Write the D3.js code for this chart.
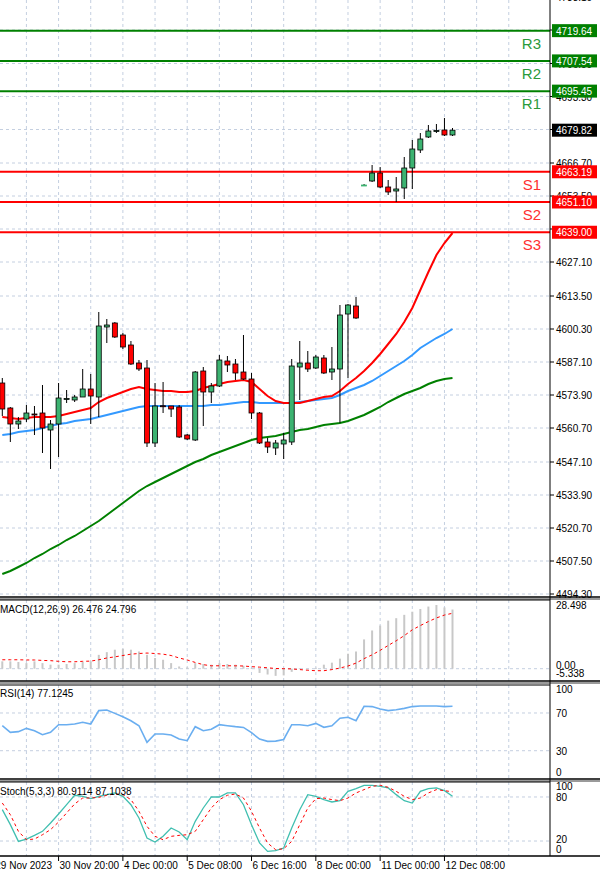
<!DOCTYPE html>
<html><head><meta charset="utf-8">
<script src="https://cdn.jsdelivr.net/npm/d3@7"></script>
<style>body{margin:0;background:#fff}svg{display:block}text{font-family:"Liberation Sans",Arial,sans-serif}</style>
</head><body><svg id="c" width="600" height="875"></svg>
<script>
const open=[4578.7,4568.7,4562.3,4564.3,4566.3,4566.7,4559.9,4562.3,4572.3,4571.9,4573.1,4576.3,4573.1,4601.1,4602.7,4597.9,4593.9,4586.7,4584.7,4554.7,4569.6,4569.5,4569.1,4557.9,4555.9,4583.5,4575.1,4577.5,4587.5,4586.3,4583.1,4580.3,4566.7,4555.1,4552.7,4554.3,4555.1,4585.1,4586.7,4584.7,4588.7,4583.1,4584.3,4606.3,4609.5,4657.7,4659.5,4662.7,4657.1,4655.5,4656.7,4664.7,4671.9,4677.1,4679.5,4679.9,4677.9];
const high=[4580.7,4569.1,4565.1,4569.9,4569.5,4577.9,4563.9,4578.7,4575.9,4573.9,4584.3,4582.3,4607.1,4604.3,4603.1,4598.7,4595.5,4587.9,4587.9,4578.7,4579.1,4569.5,4569.9,4558.3,4583.5,4585.1,4578.7,4589.9,4589.5,4588.3,4597.9,4582.7,4567.1,4556.7,4555.9,4558.7,4588.3,4595.5,4591.5,4589.9,4589.9,4593.1,4609.9,4610.3,4613.1,4658.3,4665.9,4665.1,4659.9,4661.1,4669.1,4675.9,4678.7,4681.9,4682.3,4684.7,4680.7];
const low=[4565.5,4555.1,4560.3,4563.1,4557.9,4550.7,4544.3,4549.1,4570.7,4571.1,4573.1,4562.3,4565.1,4594.7,4596.7,4592.3,4585.9,4583.5,4553.1,4553.1,4566.7,4565.1,4556.7,4555.9,4555.5,4561.5,4570.7,4577.1,4583.1,4579.9,4579.9,4564.3,4554.3,4550.7,4549.9,4548.3,4553.9,4571.9,4583.1,4584.3,4582.3,4579.9,4562.7,4580.7,4604.3,4657.5,4659.1,4656.7,4653.9,4651.1,4652.3,4656.3,4670.7,4676.7,4678.7,4677.5,4677.5];
const close=[4568.3,4562.3,4563.5,4566.7,4566.1,4560.7,4562.3,4572.7,4572.5,4573.1,4576.3,4573.5,4601.5,4601.9,4597.1,4593.1,4586.3,4584.3,4554.7,4569.5,4569.3,4568.3,4557.1,4556.3,4583.1,4575.1,4577.5,4587.9,4585.9,4582.7,4580.3,4566.7,4554.7,4553.1,4554.7,4555.9,4585.5,4586.7,4584.3,4589.1,4582.7,4584.3,4605.9,4609.9,4604.7,4657.9,4662.7,4657.1,4655.1,4656.3,4664.7,4672.3,4676.3,4679.5,4679.7,4677.9,4679.82];
const maFast=[4565.1,4564.7,4564.3,4564.7,4565.1,4565.1,4565.1,4565.5,4566.3,4567.1,4567.9,4568.7,4571.1,4572.7,4573.9,4575.1,4576.3,4577.1,4576.3,4575.9,4575.5,4575.5,4575.1,4575.1,4575.5,4576.7,4577.5,4578.3,4579.1,4579.5,4579.9,4579.1,4576.3,4573.5,4571.5,4570.7,4570.7,4570.7,4571.5,4572.3,4573.1,4573.5,4575.5,4578.3,4580.7,4583.5,4586.7,4590.3,4594.3,4598.3,4603.1,4608.7,4615.9,4623.1,4629.9,4634.7,4638.7];
const maMid=[4557.9,4558.3,4559.1,4559.5,4559.9,4560.7,4561.5,4562.3,4562.7,4563.5,4563.9,4564.3,4565.1,4565.9,4566.7,4567.5,4568.3,4569.1,4569.5,4569.5,4569.5,4569.5,4569.5,4569.5,4569.5,4569.5,4569.9,4569.9,4570.3,4570.7,4571.1,4571.1,4570.7,4570.7,4570.7,4570.7,4570.7,4571.1,4571.5,4571.9,4572.3,4572.7,4573.9,4575.5,4576.7,4577.9,4579.5,4581.5,4583.5,4585.5,4587.5,4589.9,4592.7,4594.7,4596.7,4598.3,4600.3];
const maSlow=[4502.3,4503.5,4505.1,4506.7,4508.7,4510.3,4512.3,4513.9,4515.9,4517.5,4519.5,4521.5,4523.5,4525.9,4528.3,4530.7,4533.1,4535.5,4537.5,4539.1,4540.7,4542.3,4543.9,4545.5,4547.1,4548.3,4549.9,4551.1,4552.3,4553.5,4554.7,4555.9,4556.7,4557.1,4557.5,4558.3,4559.1,4559.9,4560.3,4561.1,4561.9,4562.3,4562.7,4563.5,4564.7,4565.9,4567.5,4569.1,4571.1,4572.7,4574.3,4575.5,4576.7,4578.3,4579.5,4580.3,4580.7];
const macd=[3.3,3.3,3.0,2.5,3.3,2.5,1.8,1.8,2.1,2.5,3.0,3.3,6.2,7.4,8.5,8.9,8.5,7.7,6.2,4.8,4.0,2.5,1.0,0.6,2.5,2.1,1.8,2.5,2.1,1.8,1.3,0.2,-1.9,-2.6,-3.2,-3.0,-1.4,0.3,-0.3,0.4,1.8,2.7,4.5,6.7,7.7,13.1,17.1,19.3,21.5,22.6,24.1,25.5,26.7,27.8,28.5,27.4,26.476];
const macdSignal=[4.0,4.0,4.0,3.9,3.9,3.7,3.6,3.3,3.1,3.1,3.3,3.4,4.0,4.8,5.3,5.9,6.5,6.8,7.0,6.8,6.5,5.9,4.8,3.9,2.8,1.8,1.3,1.3,1.3,1.3,1.2,0.9,0.7,0.4,0.1,0,-0.1,-0.4,-0.7,-0.9,-0.9,-0.4,0.3,1.2,2.5,4.5,6.2,8.2,10.4,12.5,14.8,17.4,19.3,21.1,22.7,24.0,24.796];
const rsi=[56.5,49.5,50.2,53.7,51.2,47,49.5,57.6,57.6,58.3,60.1,58.3,72.5,73.2,69.6,66.1,61.8,56.5,38.9,47.7,47.7,46.6,42.4,40.6,55.5,51.2,52.7,57.6,56.5,55.5,54.7,49.1,42.4,39.9,40.2,41.9,57.6,57.6,56.5,59,54.8,56.5,64.4,65.5,61.9,77.1,76.8,74.2,72.5,73.5,74.9,76.8,77.4,77.4,77.4,76.8,77.1245];
const stochK=[62.7,42.3,19.5,22.7,27.7,33.2,44.5,56.8,69.5,82.3,80.9,77.7,80.9,83.2,85.5,80.9,69.5,51.4,24.1,18.6,26.4,37.7,32.3,21.8,46.8,65,80,80,85.5,85.5,69.5,42.3,17.3,5.9,6.8,10.5,37.7,62.7,83.2,80.9,76.4,73.2,75,87.7,91.4,95.9,95.9,94.5,92.3,83.2,75,71.8,87.7,91.4,92.3,88.6,80.9114];
const stochD=[71.8,55.9,33.2,21.8,22.7,28.6,35.5,45.9,58.2,70.5,78.6,78.6,79.5,82.3,84.1,83.2,76.4,60.5,40,26.4,21.8,26.4,27.7,28.6,33.2,49.1,65,76.4,82.3,84.1,78.6,60.5,37.7,17.3,8.2,9.5,19.5,42.3,65,77.7,78.6,76.4,75,78.6,85.5,90,94.5,95.9,93.2,87.7,80.9,76.4,78.6,85.5,90,88.6,87.1038];
const priceTicks=[4494.30,4507.50,4520.70,4533.90,4547.10,4560.70,4573.90,4587.10,4600.30,4613.50,4627.10,4640.30,4653.50,4666.70,4680.10,4693.30,4706.50,4719.90,4733.10];
const levelNames=["R3","R2","R1","S1","S2","S3"];
const levelValues=[4719.64,4707.54,4695.45,4663.19,4651.10,4639.00];
const lastPrice=4679.82;
const timeLabels=["29 Nov 2023","30 Nov 20:00","4 Dec 00:00","5 Dec 08:00","6 Dec 16:00","8 Dec 00:00","11 Dec 00:00","12 Dec 08:00"];
const timeLabelIdx=[-1,7,15,23,31,39,47,55];

const svg=d3.select("#c");
const AX=550, W=600;
const x=d3.scaleLinear().domain([0,56]).range([2.3,452.5]);
const yP=d3.scaleLinear().domain([4494.3,4679.82]).range([594,130.2]);
const panels=[{t:0,b:597},{t:600,b:681},{t:685,b:779},{t:782,b:856}];
const yM=d3.scaleLinear().domain([0,28.498]).range([668.7,605]);
const yR=d3.scaleLinear().domain([0,100]).range([779,684.7]);
const yS=d3.scaleLinear().domain([0,100]).range([855.7,782.3]);
const grid="#c4cfe0";
const idx=d3.range(open.length);

const vg=d3.range(-1,64,4).map(i=>x(i)).filter(v=>v>0&&v<AX);
panels.forEach(p=>{
  svg.append("g").selectAll("line").data(vg).join("line")
   .attr("x1",d=>d).attr("x2",d=>d).attr("y1",p.t).attr("y2",p.b)
   .attr("stroke",grid).attr("stroke-dasharray","3,3");
});
svg.append("g").selectAll("line").data(priceTicks).join("line")
 .attr("x1",0).attr("x2",AX).attr("y1",d=>yP(d)).attr("y2",d=>yP(d))
 .attr("stroke",grid).attr("stroke-dasharray","3,3");
[[yM,[0]],[yR,[70,30]],[yS,[80,20]]].forEach(([s,v])=>{
  svg.append("g").selectAll("line").data(v).join("line")
   .attr("x1",0).attr("x2",AX).attr("y1",d=>s(d)).attr("y2",d=>s(d))
   .attr("stroke",grid).attr("stroke-dasharray","3,3");
});

levelValues.forEach((v,i)=>{
  const col=i<3?"#008000":"#ff0000";
  svg.append("line").attr("x1",0).attr("x2",AX).attr("y1",yP(v)).attr("y2",yP(v)).attr("stroke",col).attr("stroke-width",2);
  svg.append("text").attr("x",541).attr("y",yP(v)+18).attr("text-anchor","end")
   .attr("font-size",15).attr("fill",i<3?"#2a9a3a":"#ff3030").text(levelNames[i]);
});

const line=s=>d3.line().x((d,i)=>x(i)).y(d=>s(d));
[[maSlow,"#008000"],[maMid,"#3399ff"],[maFast,"#ff0000"]].forEach(([a,c])=>{
  svg.append("path").attr("d",line(yP)(a)).attr("fill","none").attr("stroke",c).attr("stroke-width",2);
});

const cg=svg.append("g");
cg.selectAll("line").data(idx).join("line")
 .attr("x1",i=>x(i)).attr("x2",i=>x(i)).attr("y1",i=>yP(high[i])).attr("y2",i=>yP(low[i]))
 .attr("stroke","#000");
cg.selectAll("rect").data(idx).join("rect")
 .attr("x",i=>x(i)-2.5).attr("width",5)
 .attr("y",i=>yP(Math.max(open[i],close[i])))
 .attr("height",i=>Math.max(1,Math.abs(yP(open[i])-yP(close[i]))))
 .attr("fill",i=>close[i]>=open[i]?"#3cb371":"#ff0000")
 .attr("stroke",i=>i===45?"#3cb371":"#000").attr("stroke-width",0.8);

svg.append("g").selectAll("line").data(idx).join("line")
 .attr("x1",i=>x(i)).attr("x2",i=>x(i)).attr("y1",yM(0)).attr("y2",i=>yM(macd[i]))
 .attr("stroke","#c8c8c8").attr("stroke-width",2);
svg.append("path").attr("d",line(yM)(macdSignal)).attr("fill","none").attr("stroke","#ff0000").attr("stroke-dasharray","3,3");
svg.append("path").attr("d",line(yR)(rsi)).attr("fill","none").attr("stroke","#6aaef0").attr("stroke-width",1.6);
svg.append("path").attr("d",line(yS)(stochK)).attr("fill","none").attr("stroke","#40bfb0").attr("stroke-width",1.3);
svg.append("path").attr("d",line(yS)(stochD)).attr("fill","none").attr("stroke","#ff0000").attr("stroke-dasharray","3,3");

panels.forEach((p,k)=>{
  if(k>0) svg.append("line").attr("x1",0).attr("x2",AX).attr("y1",p.t).attr("y2",p.t).attr("stroke","#000");
  svg.append("line").attr("x1",0).attr("x2",W).attr("y1",p.b).attr("y2",p.b).attr("stroke","#000").attr("stroke-width",1.5);
  if(k<3) svg.append("rect").attr("x",0).attr("width",W).attr("y",p.b+1).attr("height",2).attr("fill","#9a9a9a");
});
svg.append("line").attr("x1",AX).attr("x2",AX).attr("y1",0).attr("y2",856).attr("stroke","#000");

const fs=10;
const hidden=new Set([4640.30,4680.10,4719.90]);
const ax=svg.append("g").attr("font-size",fs).attr("fill","#000");
ax.selectAll("text").data(priceTicks.filter(d=>!hidden.has(d))).join("text").attr("x",556).attr("y",d=>yP(d)+4).text(d=>d.toFixed(2));
ax.selectAll("line").data(priceTicks).join("line").attr("x1",AX).attr("x2",AX+4).attr("y1",d=>yP(d)).attr("y2",d=>yP(d)).attr("stroke","#000");
levelValues.concat([lastPrice]).forEach((v,i)=>{
  const col=i===6?"#000":(i<3?"#008000":"#ff0000");
  svg.append("rect").attr("x",AX+2).attr("y",yP(v)-6.5).attr("width",45).attr("height",13).attr("fill",col);
  svg.append("text").attr("x",556).attr("y",yP(v)+4).attr("font-size",fs).attr("fill","#fff").text(v.toFixed(2));
});
[["28.498",yM(28.498)+4],["0.00",yM(0)],["-5.338",yM(0)+8],["100",yR(100)+8],["70",yR(70)+4],["30",yR(30)+4],["0",yR(0)-3],
 ["100",yS(100)+8],["80",yS(80)+4],["20",yS(20)+2],["0",yS(0)-3]].forEach(([t,yy])=>{
  svg.append("text").attr("x",556).attr("y",yy).attr("font-size",fs).text(t);
});
[["MACD(12,26,9) 26.476 24.796",613],["RSI(14) 77.1245",697],["Stoch(5,3,3) 80.9114 87.1038",795]].forEach(([t,yy])=>{
  svg.append("text").attr("x",0).attr("y",yy).attr("font-size",fs).text(t);
});
timeLabels.forEach((t,k)=>{
  const xx=x(timeLabelIdx[k]);
  svg.append("line").attr("x1",xx).attr("x2",xx).attr("y1",856).attr("y2",861).attr("stroke","#000");
  svg.append("text").attr("x",xx+1).attr("y",869).attr("font-size",fs).text(t);
});
</script></body></html>
